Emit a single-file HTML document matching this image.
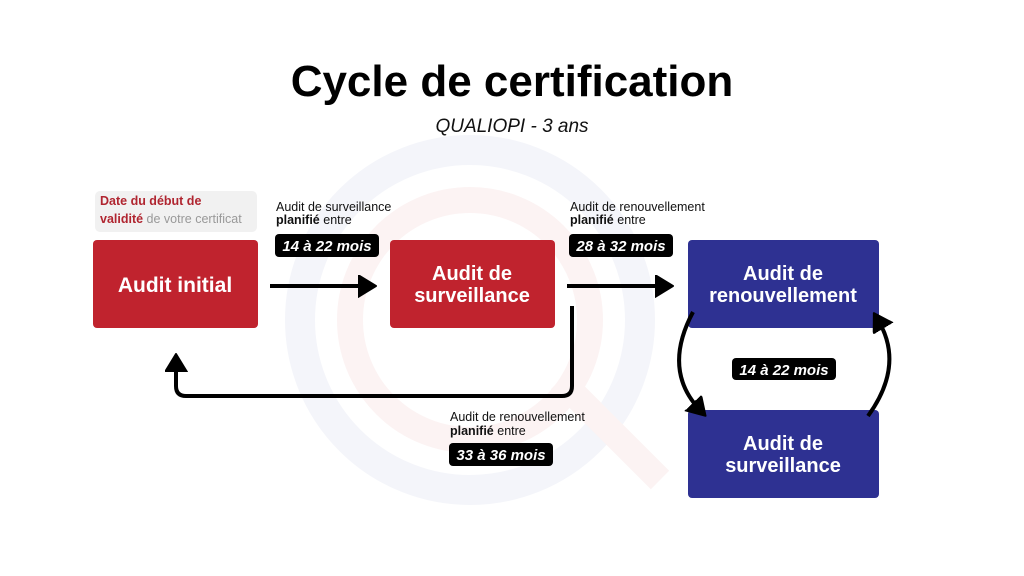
<!DOCTYPE html>
<html><head><meta charset="utf-8"><style>
body{margin:0;width:1024px;height:576px;background:#fff;overflow:hidden}
svg{display:block}
.t{font-family:"Liberation Sans",sans-serif}
</style></head><body>
<svg width="1024" height="576" viewBox="0 0 1024 576" xmlns="http://www.w3.org/2000/svg">
<defs>
<marker id="ah" markerWidth="6" markerHeight="6" refX="2.5" refY="2.75" orient="auto" markerUnits="strokeWidth"><path d="M0,0 L4.5,2.75 L0,5.5 Z" fill="#000" stroke="#000" stroke-width="0.5" stroke-linejoin="round"/></marker>
</defs>
<!-- faint watermark -->
<circle cx="470" cy="320" r="170" fill="none" stroke="#f4f5fa" stroke-width="30"/>
<circle cx="470" cy="320" r="120" fill="none" stroke="#fcf3f3" stroke-width="26"/>
<line x1="560" y1="380" x2="660" y2="480" stroke="#fcf3f3" stroke-width="26"/>

<text x="512" y="96" text-anchor="middle" class="t" font-size="44" font-weight="bold" fill="#000">Cycle de certification</text>
<text x="512" y="132" text-anchor="middle" class="t" font-size="19" font-style="italic" fill="#111">QUALIOPI - 3 ans</text>

<rect x="95" y="191" width="162" height="41" rx="5" fill="#f1f1f1"/>
<text x="100" y="205" class="t" font-size="12.5" font-weight="bold" fill="#b02530">Date du début de</text>
<text x="100" y="223" class="t" font-size="12.5" fill="#b02530"><tspan font-weight="bold">validité</tspan><tspan fill="#999"> de votre certificat</tspan></text>

<rect x="93" y="240" width="165" height="88" rx="4" fill="#c0232e"/>
<text x="175" y="292" text-anchor="middle" class="t" font-size="21" font-weight="bold" fill="#fff">Audit initial</text>
<rect x="390" y="240" width="165" height="88" rx="4" fill="#c0232e"/>
<text x="472" y="280" text-anchor="middle" class="t" font-size="20" font-weight="bold" fill="#fff">Audit de</text>
<text x="472" y="302" text-anchor="middle" class="t" font-size="20" font-weight="bold" fill="#fff">surveillance</text>
<rect x="688" y="240" width="191" height="88" rx="4" fill="#2e3192"/>
<text x="783" y="280" text-anchor="middle" class="t" font-size="20" font-weight="bold" fill="#fff">Audit de</text>
<text x="783" y="302" text-anchor="middle" class="t" font-size="20" font-weight="bold" fill="#fff">renouvellement</text>
<rect x="688" y="410" width="191" height="88" rx="4" fill="#2e3192"/>
<text x="783" y="450" text-anchor="middle" class="t" font-size="20" font-weight="bold" fill="#fff">Audit de</text>
<text x="783" y="472" text-anchor="middle" class="t" font-size="20" font-weight="bold" fill="#fff">surveillance</text>

<!-- arrows -->
<line x1="270" y1="286" x2="368" y2="286" stroke="#000" stroke-width="4" marker-end="url(#ah)"/>
<line x1="567" y1="286" x2="665" y2="286" stroke="#000" stroke-width="4" marker-end="url(#ah)"/>
<path d="M572,306 L572,386 Q572,396 562,396 L186,396 Q176,396 176,386 L176,362" fill="none" stroke="#000" stroke-width="4" marker-end="url(#ah)"/>
<path d="M693,312 Q662,370 700,410" fill="none" stroke="#000" stroke-width="4" marker-end="url(#ah)"/>
<path d="M868,416 Q905,365 878,320" fill="none" stroke="#000" stroke-width="4" marker-end="url(#ah)"/>

<!-- labels -->
<text x="276" y="211" class="t" font-size="12.5" fill="#111">Audit de surveillance</text>
<text x="276" y="224" class="t" font-size="12.5" fill="#111"><tspan font-weight="bold">planifié</tspan> entre</text>
<rect x="275" y="234" width="104" height="23" rx="4" fill="#000"/>
<text x="327" y="251" text-anchor="middle" class="t" font-size="15" font-weight="bold" font-style="italic" fill="#fff">14 à 22 mois</text>

<text x="570" y="211" class="t" font-size="12.5" fill="#111">Audit de renouvellement</text>
<text x="570" y="224" class="t" font-size="12.5" fill="#111"><tspan font-weight="bold">planifié</tspan> entre</text>
<rect x="569" y="234" width="104" height="23" rx="4" fill="#000"/>
<text x="621" y="251" text-anchor="middle" class="t" font-size="15" font-weight="bold" font-style="italic" fill="#fff">28 à 32 mois</text>

<text x="450" y="421" class="t" font-size="12.5" fill="#111">Audit de renouvellement</text>
<text x="450" y="435" class="t" font-size="12.5" fill="#111"><tspan font-weight="bold">planifié</tspan> entre</text>
<rect x="449" y="443" width="104" height="23" rx="4" fill="#000"/>
<text x="501" y="460" text-anchor="middle" class="t" font-size="15" font-weight="bold" font-style="italic" fill="#fff">33 à 36 mois</text>

<rect x="732" y="358" width="104" height="22" rx="4" fill="#000"/>
<text x="784" y="375" text-anchor="middle" class="t" font-size="15" font-weight="bold" font-style="italic" fill="#fff">14 à 22 mois</text>
</svg>
</body></html>
